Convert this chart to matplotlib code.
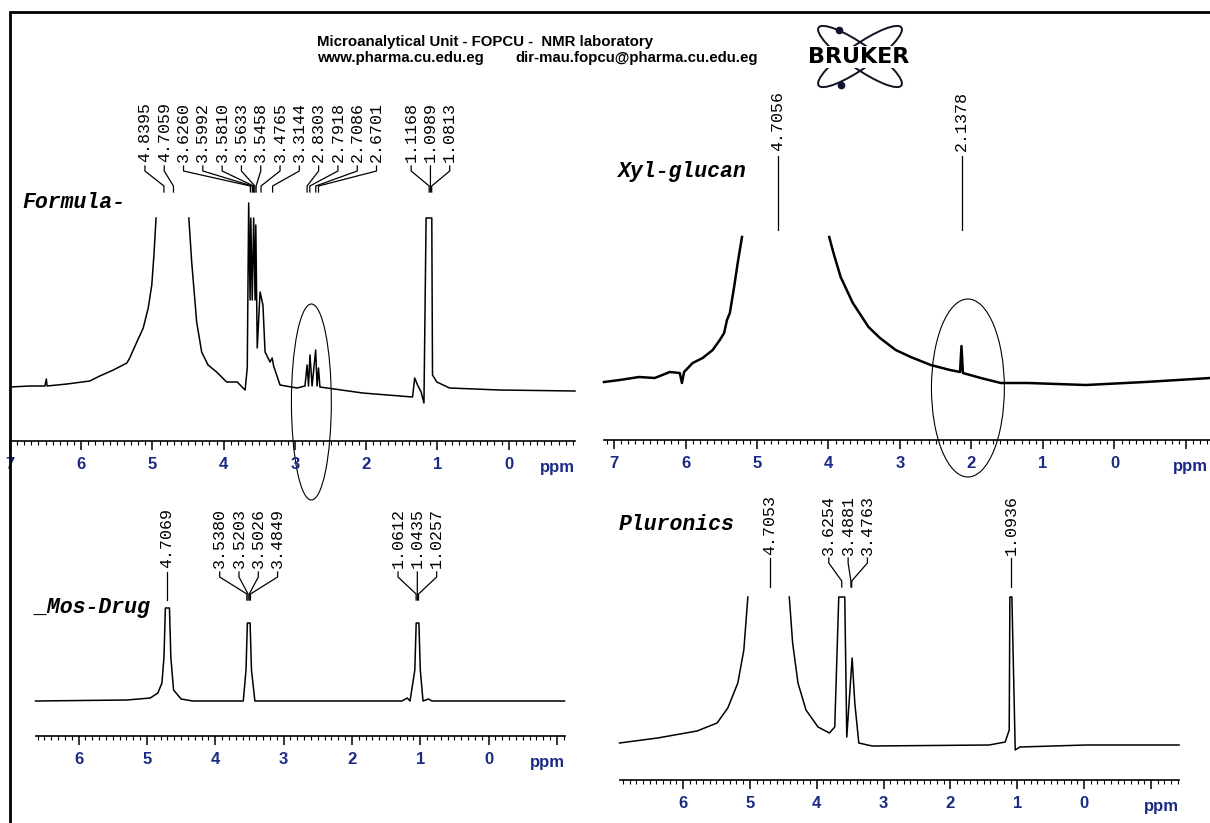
import numpy as np
import matplotlib.pyplot as plt
from matplotlib.patches import Ellipse
from matplotlib.ticker import MultipleLocator, FuncFormatter

nan = np.nan
W, H = 1210, 823

# 1H NMR traces: chemical shift (ppm) and intensity (arb. units)
formula_ppm = [7.00, 6.72, 6.51, 6.49, 6.48, 6.20, 5.88, 5.74, 5.55, 5.36, 5.32, 5.22,
               5.13, 5.06, 5.01, 4.98, 4.95, nan, 4.49, 4.45, 4.38, 4.31, 4.22, 4.10,
               3.96, 3.81, 3.73, 3.70, 3.67, 3.65, 3.63, 3.62, 3.60, 3.58, 3.56, 3.55,
               3.53, 3.49, 3.45, 3.42, 3.35, 3.32, 3.30, 3.21, 2.97, 2.86, 2.83, 2.81,
               2.79, 2.76, 2.71, 2.69, 2.67, 2.65, 2.05, 1.35, 1.32, 1.28, 1.23, 1.19,
               1.16, 1.08, 1.07, 1.01, 0.83, 0.13, -0.93]
formula_int = [54, 55, 55, 62, 55, 57, 60, 65, 71, 78, 83, 99,
               113, 133, 156, 186, 223, nan, 223, 179, 119, 89, 76, 69,
               59, 59, 53, 51, 73, 238, 141, 223, 141, 223, 141, 216,
               93, 149, 136, 89, 79, 83, 75, 56, 53, 55, 76, 55,
               86, 55, 91, 55, 73, 54, 48, 44, 63, 56, 49, 38,
               223, 223, 66, 59, 53, 51, 50]
formula_peaks = [4.8395, 4.7059, 3.6260, 3.5992, 3.5810, 3.5633, 3.5458, 3.4765,
                 3.3144, 2.8303, 2.7918, 2.7086, 2.6701, 1.1168, 1.0989, 1.0813]

xyl_ppm = [7.14, 6.92, 6.65, 6.43, 6.22, 6.08, 6.05, 6.02, 5.90, 5.76, 5.62, 5.52,
           5.46, 5.42, 5.38, 5.32, 5.27, 5.21, nan, 3.99, 3.93, 3.83, 3.66, 3.44,
           3.28, 3.06, 2.85, 2.57, 2.30, 2.16, 2.14, 2.12, 1.87, 1.59, 1.21, 0.40,
           -0.43, -1.34, -1.56]
xyl_int = [58, 60, 63, 62, 68, 67, 57, 68, 77, 82, 90, 100,
           107, 120, 127, 153, 177, 203, nan, 203, 187, 163, 137, 113,
           102, 90, 83, 75, 70, 68, 94, 67, 62, 57, 57, 55,
           58, 62, 63]
xyl_peaks = [4.7056, 2.1378]

mos_ppm = [6.63, 5.29, 4.95, 4.84, 4.78, 4.75, 4.73, 4.67, 4.65, 4.61, 4.50, 4.33,
           3.59, 3.55, 3.53, 3.49, 3.47, 3.42, 1.27, 1.19, 1.15, 1.08, 1.06, 1.02,
           1.00, 0.96, 0.88, 0.83, -1.11]
mos_int = [35, 36, 38, 43, 53, 79, 128, 128, 79, 46, 37, 35,
           35, 66, 113, 113, 66, 35, 35, 38, 35, 66, 113, 113,
           66, 35, 37, 35, 35]
mos_peaks = [4.7069, 3.5380, 3.5203, 3.5026, 3.4849, 1.0612, 1.0435, 1.0257]

plu_ppm = [6.95, 6.38, 5.79, 5.49, 5.33, 5.18, 5.09, 5.03, nan, 4.41, 4.36, 4.28,
           4.16, 3.98, 3.81, 3.73, 3.67, 3.58, 3.55, 3.47, 3.43, 3.37, 3.17, 1.42,
           1.18, 1.12, 1.11, 1.08, 1.03, 0.96, -0.03, -1.42]
plu_int = [37, 42, 49, 57, 72, 97, 130, 183, nan, 183, 137, 97,
           70, 53, 47, 53, 183, 183, 43, 122, 77, 37, 34, 35,
           38, 50, 183, 183, 30, 33, 35, 35]
plu_peaks = [4.7053, 3.6254, 3.4881, 3.4763, 1.0936]

NAVY = '#1b2a84'
fig = plt.figure(figsize=(W / 100, H / 100), dpi=100)


def spread(peaks, gap):
    # Bruker-style label placement: clusters of close peaks get evenly spaced labels
    groups = [[p] for p in peaks]

    def place(g):
        m, n = np.mean(g), len(g)
        return [m + gap * ((n - 1) / 2 - k) for k in range(n)]

    merged = True
    while merged:
        merged = False
        for i in range(len(groups) - 1):
            if place(groups[i])[-1] - place(groups[i + 1])[0] < gap:
                groups[i] = groups[i] + groups.pop(i + 1)
                merged = True
                break
    return [x for g in groups for x in place(g)]


def panel(box, xlim, ppm, inten, peaks, name, name_xy, lab, lw=1.1, ppm_dx=0):
    left, right, base, top = box
    ax = fig.add_axes([left / W, (H - base) / H, (right - left) / W, (base - top) / H])
    ax.patch.set_visible(False)
    ax.plot(ppm, inten, color='black', lw=lw, clip_on=False)
    ax.set_xlim(*xlim)
    ax.set_ylim(0, base - top)
    for s in ['top', 'left', 'right']:
        ax.spines[s].set_visible(False)
    ax.spines['bottom'].set_linewidth(1.2)
    ax.set_yticks([])
    ax.xaxis.set_major_locator(MultipleLocator(1))
    ax.xaxis.set_minor_locator(MultipleLocator(0.1))
    ax.xaxis.set_major_formatter(FuncFormatter(lambda v, p: f'{v:.0f}' if v > -0.5 else ''))
    ax.tick_params(axis='x', which='major', length=6.5, width=1.1, pad=5,
                   labelsize=12, labelcolor=NAVY)
    ax.tick_params(axis='x', which='minor', length=3, width=0.8)
    for t in ax.get_xticklabels():
        t.set_fontweight('bold')
        t.set_family('Liberation Sans')
    ax.annotate('ppm', xy=(1, 0), xycoords='axes fraction', xytext=(ppm_dx, -19),
                textcoords='offset points', ha='right', va='center', fontsize=12,
                fontweight='bold', color=NAVY, family='Liberation Sans')

    # peak labels with leader lines
    text_y, lead_top, lead_bot = lab
    px_per_ppm = (right - left) / (xlim[0] - xlim[1])
    for pk, lx in zip(peaks, spread(peaks, 19.3 / px_per_ppm)):
        t, b = base - lead_top, base - lead_bot
        ax.plot([lx, lx, pk, pk], [t, t - 5, b + 6, b], color='black', lw=0.9,
                clip_on=False)
        ax.text(lx, base - text_y, f'{pk:.4f}', rotation=90, ha='center', va='bottom',
                family='Liberation Mono', fontsize=12)

    fig.text(name_xy[0] / W, 1 - name_xy[1] / H, name, family='Liberation Mono',
             fontweight='bold', style='italic', fontsize=15.5, va='center')
    return ax


ax1 = panel((10, 575, 441, 203), (7.00, -0.93), formula_ppm, formula_int, formula_peaks,
            'Formula-', (22, 202), (162, 166, 192))
ax2 = panel((604, 1226, 440, 237), (7.14, -1.56), xyl_ppm, xyl_int, xyl_peaks,
            'Xyl-glucan', (617, 172), (151, 156, 230), lw=1.8, ppm_dx=-13)
ax3 = panel((35.5, 564.5, 736, 608), (6.63, -1.11), mos_ppm, mos_int, mos_peaks,
            '_Mos-Drug', (35, 607), (568, 572, 600))
ax4 = panel((619.5, 1179, 780, 597), (6.95, -1.42), plu_ppm, plu_int, plu_peaks,
            'Pluronics', (619, 525), (555, 558, 587))

# hand-drawn ellipses around the regions of interest
ax1.add_patch(Ellipse((2.77, 39), 0.56, 196, fill=False, lw=0.8, clip_on=False))
ax2.add_patch(Ellipse((2.05, 52), 1.02, 178, fill=False, lw=0.8, clip_on=False))

# page frame, header and logo (pixel coordinates)
ov = fig.add_axes([0, 0, 1, 1], zorder=10)
ov.set_xlim(0, W)
ov.set_ylim(H, 0)
ov.axis('off')
ov.patch.set_visible(False)
ov.plot([9, W], [12, 12], color='black', lw=2, solid_capstyle='butt')
ov.plot([9.5, 9.5], [11, H], color='black', lw=2, solid_capstyle='butt')
hdr = dict(fontsize=10.8, fontweight='bold', family='Liberation Sans', va='center')
ov.text(317, 42, 'Microanalytical Unit - FOPCU -  NMR laboratory', **hdr)
ov.text(317, 58, 'www.pharma.cu.edu.eg', **hdr)
ov.text(515, 58, 'dir-mau.fopcu@pharma.cu.edu.eg', **hdr)
for ang in (35, -35):
    ov.add_patch(Ellipse((860, 56.5), 101, 24, angle=ang, fill=False, lw=1.4,
                         ec='#111122'))
ov.plot([839, 841], [30, 85], 'o', color='#111133', ms=4.5, ls='none')
ov.text(859, 57, 'BRUKER', fontsize=16, fontweight='bold', family='DejaVu Sans',
        ha='center', va='center',
        bbox=dict(boxstyle='square,pad=0.05', fc='white', ec='none'))

fig.savefig('out.png', dpi=100)
